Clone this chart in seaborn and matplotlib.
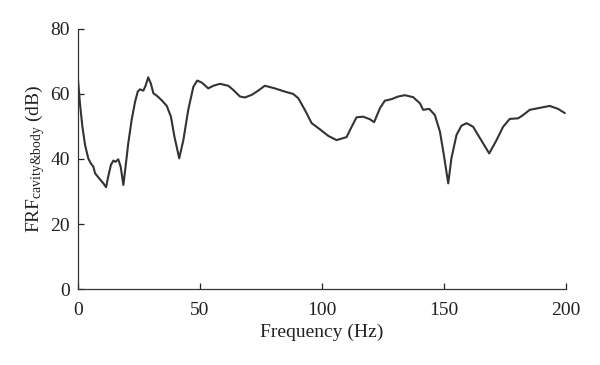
import matplotlib
matplotlib.use("Agg")
import matplotlib.pyplot as plt
import seaborn as sns
import pandas as pd

freq = [0.0, 0.8, 1.8, 2.9, 4.2, 5.2, 6.3, 7.0, 8.6, 10.4, 11.5, 12.4, 13.5, 14.5,
        15.4, 16.5, 17.5, 18.6, 19.5, 20.6, 22.0, 23.4, 24.5, 25.4, 26.8, 27.7,
        28.8, 29.9, 30.9, 32.7, 34.5, 36.4, 38.1, 39.5, 41.5, 43.2, 45.2, 47.3,
        48.9, 50.7, 53.4, 55.5, 58.2, 61.6, 63.7, 66.4, 68.4, 71.2, 73.9, 76.6,
        80.7, 84.8, 88.2, 90.3, 93.0, 95.8, 99.2, 102.6, 106.0, 110.1, 112.2,
        114.2, 116.9, 119.7, 121.4, 123.8, 125.8, 128.6, 131.3, 134.0, 137.4,
        140.2, 141.5, 144.0, 146.3, 148.4, 150.0, 151.8, 153.1, 155.2, 157.2,
        159.3, 162.0, 164.8, 168.6, 171.6, 174.3, 177.0, 180.5, 182.5, 185.2,
        188.6, 193.4, 196.8, 199.6]
frf = [64.3, 57.1, 49.9, 44.3, 40.2, 38.7, 37.6, 35.6, 34.1, 32.5, 31.3, 34.6, 38.2, 39.5,
       39.1, 39.9, 37.6, 32.0, 37.6, 44.8, 52.0, 57.6, 60.7, 61.4, 61.0, 62.5,
       65.1, 63.1, 60.2, 59.2, 57.9, 56.3, 53.0, 47.0, 40.2, 45.8, 55.1, 62.2,
       64.1, 63.5, 61.7, 62.5, 63.1, 62.5, 61.2, 59.2, 58.9, 59.7, 61.0, 62.5,
       61.7, 60.7, 60.0, 58.7, 55.1, 51.0, 49.1, 47.1, 45.8, 46.7, 49.9,
       52.8, 53.0, 52.2, 51.3, 55.6, 57.9, 58.4, 59.2, 59.6, 59.0,
       57.1, 55.1, 55.4, 53.5, 48.4, 41.2, 32.5, 40.2, 47.4, 50.2,
       51.0, 49.9, 46.4, 41.7, 45.8, 49.9, 52.3, 52.5, 53.5, 55.1,
       55.6, 56.3, 55.4, 54.1]

x_ticks = [0, 50, 100, 150, 200]
y_ticks = [0, 20, 40, 60, 80]

sns.set_style("ticks")
plt.rcParams["font.family"] = ["Liberation Serif", "DejaVu Serif"]
plt.rcParams["mathtext.fontset"] = "custom"
plt.rcParams["mathtext.rm"] = "Liberation Serif"
plt.rcParams["mathtext.it"] = "Liberation Serif"
plt.rcParams["mathtext.default"] = "regular"

df = pd.DataFrame({"Frequency": freq, "FRF": frf})

fig = plt.figure(figsize=(6, 3.65), dpi=100)
ax = fig.add_axes([0.13, 0.208, 0.813, 0.713])
sns.lineplot(data=df, x="Frequency", y="FRF", ax=ax, color="#333333", linewidth=1.5)

ax.set_xlim(0, 200)
ax.set_ylim(0, 80)
ax.set_xticks(x_ticks)
ax.set_yticks(y_ticks)
ax.tick_params(direction="in", length=4, width=0.9, labelsize=14, colors="#222222")
ax.tick_params(axis="x", pad=9)
ax.tick_params(axis="y", pad=6)
sns.despine(ax=ax)
for s in ["left", "bottom"]:
    ax.spines[s].set_color("#333333")
    ax.spines[s].set_linewidth(0.9)

ax.set_xlabel("Frequency (Hz)", fontsize=14, color="#222222", labelpad=4)
ax.set_ylabel("FRF$_{cavity&body}$ (dB)", fontsize=14, color="#222222", labelpad=2)
try:
    fig.canvas.draw()
except Exception:
    ax.set_ylabel("FRF cavity&body (dB)", fontsize=14, color="#222222")

fig.savefig("out.png", dpi=100)
